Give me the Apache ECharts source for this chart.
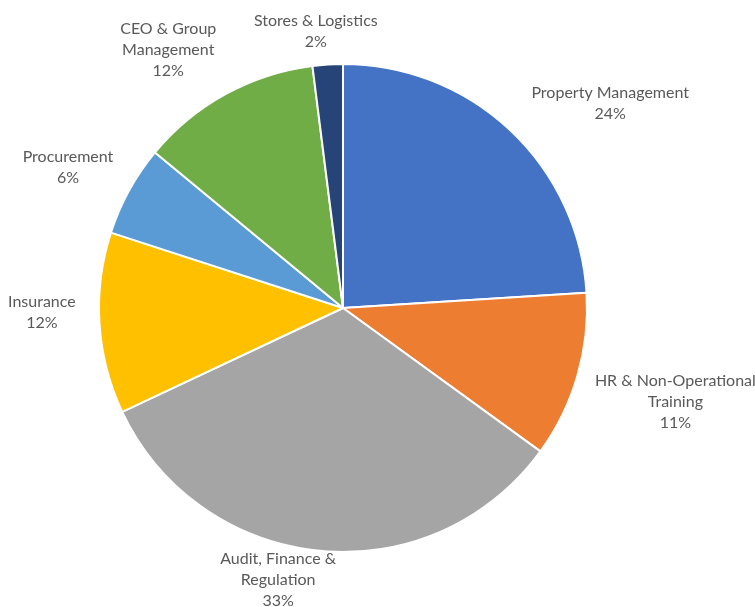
<!DOCTYPE html>
<html>
<head>
<meta charset="utf-8">
<title>Cost share by department</title>
<script src="https://cdn.jsdelivr.net/npm/echarts@6/dist/echarts.min.js"></script>
<style>
  html, body { margin: 0; padding: 0; background: #ffffff; }
  #chart { width: 755px; height: 607px; }
</style>
</head>
<body>
<div id="chart"></div>
<script>
// Departments, clockwise from 12 o'clock
const categories = [
  'Property Management',
  'HR & Non-Operational\nTraining',
  'Audit, Finance &\nRegulation',
  'Insurance',
  'Procurement',
  'CEO & Group\nManagement',
  'Stores & Logistics'
];
// Share of total, percent
const shares = [24, 11, 33, 12, 6, 12, 2];

const palette = ['#4472C4', '#ED7D31', '#A5A5A5', '#FFC000', '#5B9BD5', '#70AD47', '#264478'];

// Label placement: angular nudge (degrees) off the slice's mid-angle, and gap to the rim (px)
const labelAngleShift = [9.3, -0.4, 8, 2.8, -1.7, -5.3, -2];
const labelGap = [17.5, 15.4, -8.4, 23, 15, 14.7, 7.3];

const CX = 343, CY = 308, R = 244;

// Mid-angle of every slice (radians, clockwise from the top)
const total = shares.reduce((a, b) => a + b, 0);
const midAngles = [];
let acc = 0;
shares.forEach(v => { midAngles.push((acc + v / 2) / total * Math.PI * 2); acc += v; });

const chart = echarts.init(document.getElementById('chart'), null, { renderer: 'canvas' });
chart.setOption({
  animation: false,
  backgroundColor: '#ffffff',
  series: [{
    type: 'pie',
    center: [CX, CY],
    radius: R,
    startAngle: 90,
    clockwise: true,
    avoidLabelOverlap: false,
    itemStyle: { borderColor: '#ffffff', borderWidth: 2 },
    label: {
      show: true,
      position: 'outside',
      formatter: '{b}\n{d}%',
      fontFamily: 'Lato',
      fontSize: 16,
      lineHeight: 21,
      color: '#595959',
      align: 'center'
    },
    labelLine: { show: false },
    // Push each label block outward along (roughly) its slice's mid-angle until it clears the rim
    labelLayout(p) {
      const i = p.dataIndex;
      const a = midAngles[i] + labelAngleShift[i] * Math.PI / 180;
      const ux = Math.sin(a), uy = -Math.cos(a);
      const w = p.labelRect.width, h = p.labelRect.height;
      const d = R + labelGap[i] + Math.abs(ux) * w / 2 + Math.abs(uy) * h / 2;
      return { x: CX + ux * d, y: CY + uy * d, align: 'center', verticalAlign: 'middle' };
    },
    emphasis: { disabled: true },
    data: categories.map((name, i) => ({
      name,
      value: shares[i],
      itemStyle: { color: palette[i] }
    }))
  }]
});
</script>
</body>
</html>
